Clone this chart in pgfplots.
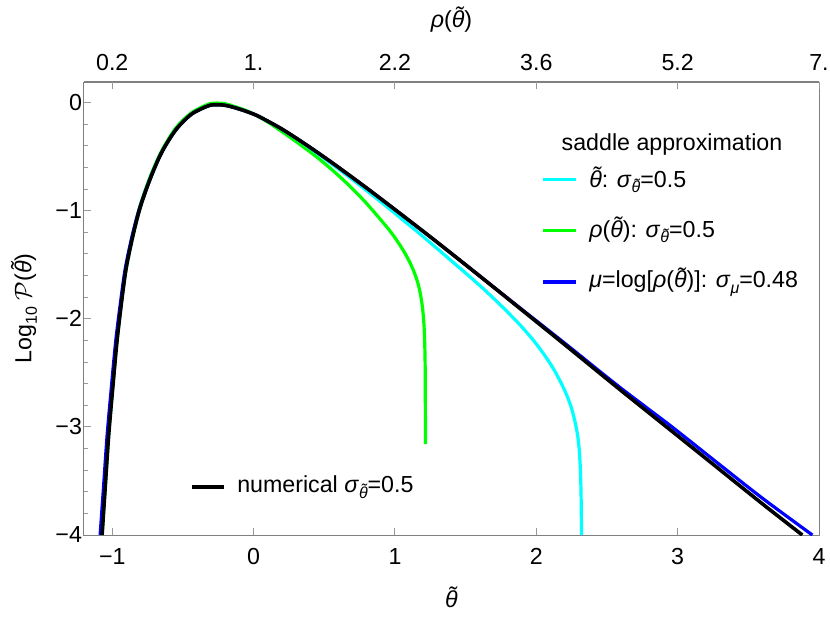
\documentclass[border=0pt]{standalone}
\usepackage{fontspec}
\setmainfont{Liberation Sans}
\usepackage{pgfplots}
\pgfplotsset{compat=1.18}
\definecolor{mcyan}{RGB}{0,255,255}
\definecolor{mgreen}{RGB}{0,255,0}
\definecolor{mblue}{RGB}{0,0,255}
\newcommand\tth{{\accent"02DC θ}}
\newcommand\itth{\textit{\tth}}
\newcommand\sub[1]{\raisebox{-0.45ex}{\fontsize{8}{9}\selectfont #1}}
\begin{document}
\begin{tikzpicture}[font=\fontsize{11.6}{13.5}\selectfont]
\begin{axis}[
  at={(0,0)}, anchor=south west, scale only axis,
  width=367.5pt, height=226.5pt,
  xmin=-1.2, xmax=4, ymin=-4, ymax=0.19,
  xtick={-1,0,1,2,3,4}, xticklabels={−1,0,1,2,3,4},
  ytick={-4,-3,-2,-1,0}, yticklabels={−4,−3,−2,−1,0},
  minor y tick num=4,
  xtick pos=bottom, ytick pos=left, tick align=inside,
  major tick length=3.5pt, minor tick length=2pt,
  axis line style={black!50, line width=0.5pt},
  every tick/.style={black!40, line width=0.5pt},
  xticklabel style={yshift=-3.3pt},
  yticklabel style={xshift=2.5pt},
  xlabel={\itth}, ylabel={Log\sub{10} $\mathcal{P}$(\itth)},
  every axis x label/.style={at={(axis description cs:0.5,-0.137)}, anchor=center},
  every axis y label/.style={at={(axis description cs:-0.0816,0.5)}, anchor=center, rotate=90},
  every axis plot/.append style={line width=1.6pt, smooth, tension=0.5},
]
% green: rho saddle
\addplot[mgreen] coordinates {
(-1.073,-4.0) (-1.048,-3.50) (-1.025,-3.05) (-0.994,-2.58) (-0.966,-2.18) (-0.931,-1.79) (-0.90,-1.50) (-0.85,-1.19) (-0.80,-0.94) (-0.73,-0.68) (-0.65,-0.445) (-0.55,-0.235) (-0.44,-0.095) (-0.32,-0.015) (-0.26,-0.005) (-0.20,-0.011) (-0.14,-0.035) (-0.06,-0.07) (0.02,-0.12) (0.10,-0.18) (0.207,-0.275) (0.32,-0.38) (0.443,-0.50) (0.56,-0.628) (0.678,-0.77) (0.79,-0.92) (0.89,-1.07) (0.96,-1.18) (1.008,-1.265) (1.06,-1.37) (1.10,-1.465) (1.13,-1.55) (1.16,-1.66) (1.18,-1.77) (1.195,-1.90) (1.205,-2.05) (1.211,-2.25) (1.214,-2.5) (1.216,-3.16)
};
% cyan: theta saddle
\addplot[mcyan] coordinates {
(-1.073,-4.0) (-1.048,-3.52) (-1.025,-3.07) (-0.994,-2.60) (-0.966,-2.20) (-0.931,-1.81) (-0.90,-1.52) (-0.85,-1.21) (-0.80,-0.96) (-0.73,-0.70) (-0.65,-0.46) (-0.55,-0.252) (-0.44,-0.108) (-0.32,-0.030) (-0.26,-0.020) (-0.20,-0.026) (-0.14,-0.045) (-0.06,-0.078) (0.02,-0.118) (0.10,-0.172) (0.20,-0.247) (0.32,-0.35) (0.44,-0.46) (0.56,-0.575) (0.68,-0.693) (0.80,-0.815) (0.92,-0.94) (1.04,-1.068) (1.16,-1.197) (1.28,-1.33) (1.40,-1.465) (1.52,-1.60) (1.64,-1.74) (1.76,-1.89) (1.88,-2.05) (1.98,-2.20) (2.06,-2.34) (2.12,-2.46) (2.17,-2.58) (2.21,-2.69) (2.245,-2.81) (2.27,-2.93) (2.29,-3.06) (2.303,-3.20) (2.312,-3.40) (2.317,-3.65) (2.32,-4.0)
};
% blue: mu saddle
\addplot[mblue] coordinates {
(-1.086,-4.0) (-1.060,-3.52) (-1.036,-3.07) (-1.004,-2.60) (-0.975,-2.20) (-0.938,-1.81) (-0.906,-1.52) (-0.855,-1.21) (-0.803,-0.96) (-0.731,-0.70) (-0.65,-0.46) (-0.55,-0.252) (-0.44,-0.108) (-0.32,-0.030) (-0.26,-0.020) (-0.20,-0.026) (-0.14,-0.045) (-0.06,-0.078) (0.02,-0.118) (0.10,-0.172) (0.20,-0.245) (0.32,-0.345) (0.44,-0.451) (0.56,-0.561) (0.68,-0.675) (0.80,-0.791) (0.92,-0.910) (1.04,-1.030) (1.16,-1.151) (1.28,-1.273) (1.40,-1.397) (1.60,-1.605) (1.88,-1.895) (2.2,-2.225) (2.587,-2.63) (2.95,-2.99) (3.293,-3.345) (3.6,-3.66) (3.953,-4.0)
};
% black: numerical
\addplot[black, line width=1.8pt] coordinates {
(-1.072,-4.0) (-1.048,-3.52) (-1.025,-3.07) (-0.994,-2.60) (-0.966,-2.20) (-0.931,-1.81) (-0.90,-1.52) (-0.85,-1.21) (-0.80,-0.96) (-0.73,-0.70) (-0.65,-0.46) (-0.55,-0.252) (-0.44,-0.108) (-0.32,-0.030) (-0.26,-0.020) (-0.20,-0.026) (-0.14,-0.045) (-0.06,-0.078) (0.02,-0.118) (0.10,-0.172) (0.20,-0.245) (0.32,-0.345) (0.44,-0.451) (0.56,-0.561) (0.68,-0.675) (0.80,-0.791) (0.92,-0.910) (1.04,-1.030) (1.16,-1.151) (1.28,-1.273) (1.40,-1.397) (1.60,-1.605) (1.88,-1.90) (2.2,-2.238) (2.587,-2.650) (2.95,-3.03) (3.293,-3.39) (3.6,-3.712) (3.882,-4.0)
};
% legends
\node[anchor=center] at (axis description cs:0.800,0.861) {saddle approximation};
\draw[mcyan, line width=1.6pt] (axis description cs:0.6245,0.784) -- (axis description cs:0.669,0.784);
\node[anchor=west, inner sep=0pt] at (axis description cs:0.687,0.784) {\itth: \textit{σ}\sub{\itth}=0.5};
\draw[mgreen, line width=1.6pt] (axis description cs:0.6245,0.673) -- (axis description cs:0.669,0.673);
\node[anchor=west, inner sep=0pt] at (axis description cs:0.687,0.673) {\textit{ρ}(\itth): \textit{σ}\sub{\itth}=0.5};
\draw[mblue, line width=1.6pt] (axis description cs:0.6245,0.5585) -- (axis description cs:0.669,0.5585);
\node[anchor=west, inner sep=0pt] at (axis description cs:0.687,0.5585) {\textit{μ}=log[\textit{ρ}(\itth)]: \textit{σ}\sub{\textit{μ}}=0.48};
\draw[black, line width=1.8pt] (axis description cs:0.147,0.106) -- (axis description cs:0.1905,0.106);
\node[anchor=west, inner sep=0pt] at (axis description cs:0.208,0.106) {numerical \textit{σ}\sub{\itth}=0.5};
\end{axis}
\begin{axis}[
  at={(0,0)}, anchor=south west, scale only axis,
  width=367.5pt, height=226.5pt,
  xmin=-1.2, xmax=4, ymin=-4, ymax=0.19,
  axis x line*=top, axis y line=none,
  xtick={-1,0,1,2,3,4}, xticklabels={0.2,1.,2.2,3.6,5.2,7.},
  tick align=inside, major tick length=3.5pt,
  axis line style={black!50, line width=0.5pt},
  every tick/.style={black!40, line width=0.5pt},
  xticklabel style={yshift=2.3pt},
  xlabel={\textit{ρ}(\itth)},
  every axis x label/.style={at={(axis description cs:0.5,1.137)}, anchor=center},
]
\end{axis}
\pgfresetboundingbox
\path[use as bounding box] (-42pt,-41.5pt) rectangle (373pt,267.5pt);
\end{tikzpicture}
\end{document}
